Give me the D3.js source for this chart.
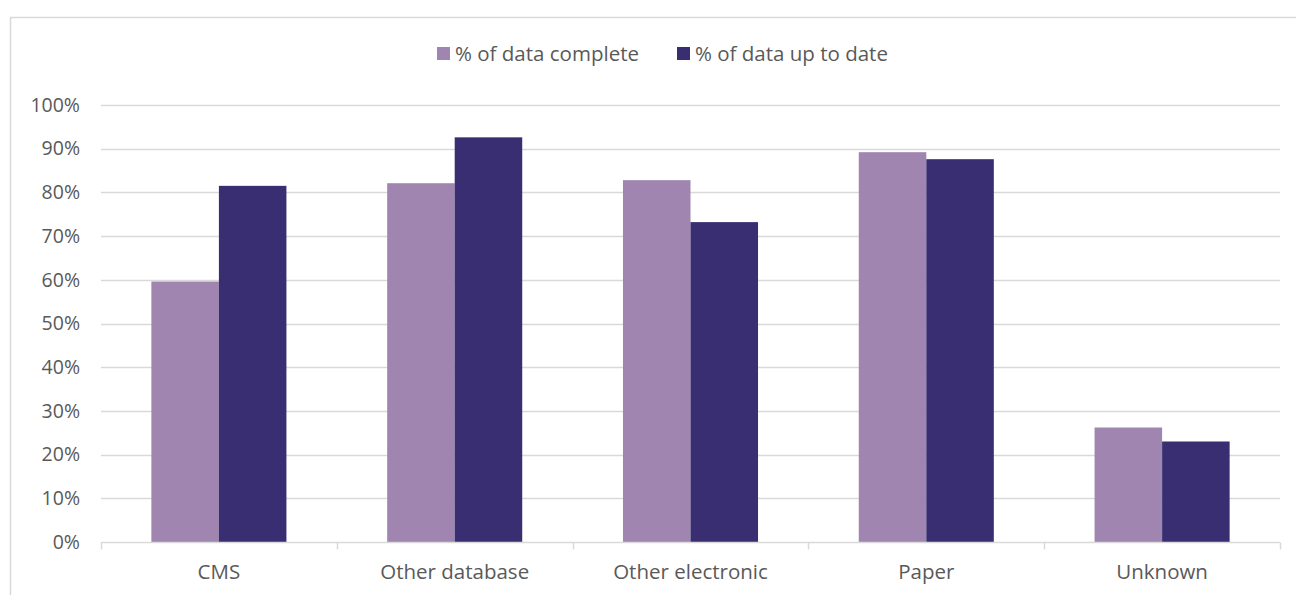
<!DOCTYPE html>
<html lang="en">
<head>
    <meta charset="UTF-8">
    <script src="https://d3js.org/d3.v7.min.js"></script>
    <style>
        body { margin: 0; background: #fff; }
        text { font-family: "Open Sans", Lato, sans-serif; fill: #595959; }
    </style>
</head>
<body>
<div id="chart"></div>
<script>
    var categories = ["CMS", "Other database", "Other electronic", "Paper", "Unknown"];
    var seriesNames = ["% of data complete", "% of data up to date"];
    var complete = [59.6, 82.1, 82.8, 89.2, 26.2];
    var upToDate = [81.5, 92.6, 73.2, 87.6, 23.0];
    var yTicks = [0, 10, 20, 30, 40, 50, 60, 70, 80, 90, 100];
    var colors = ["#9f85b0", "#392e72"];

    var width = 1296, height = 595;
    var margin = {top: 105, right: 16, bottom: 53, left: 101};

    var svg = d3.select("#chart")
        .append("svg")
        .attr("width", width)
        .attr("height", height);

    // outer frame (only top and left edges show)
    svg.append("path")
        .attr("d", "M10.5," + height + "V17.5H" + width)
        .attr("fill", "none")
        .attr("stroke", "#d9d9d9")
        .attr("stroke-width", 1.5);

    var x = d3.scaleBand()
        .domain(categories)
        .range([margin.left, width - margin.right]);

    var xSub = d3.scaleBand()
        .domain(seriesNames)
        .range([0, x.bandwidth()])
        .paddingOuter(0.746);

    var y = d3.scaleLinear()
        .domain([0, 100])
        .range([height - margin.bottom, margin.top]);

    // gridlines
    svg.append("g")
        .selectAll("line")
        .data(yTicks.filter(function (d) { return d > 0; }))
        .enter()
        .append("line")
        .attr("x1", margin.left)
        .attr("x2", width - margin.right)
        .attr("y1", function (d) { return Math.round(y(d)) + 0.5; })
        .attr("y2", function (d) { return Math.round(y(d)) + 0.5; })
        .attr("stroke", "#d9d9d9")
        .attr("stroke-width", 1.5);

    // y axis labels
    var yAxis = d3.axisLeft(y)
        .tickValues(yTicks)
        .tickSize(0)
        .tickPadding(21)
        .tickFormat(function (d) { return d + "%"; });

    svg.append("g")
        .attr("transform", "translate(" + margin.left + ",0)")
        .call(yAxis)
        .call(function (g) { g.select(".domain").remove(); })
        .selectAll("text")
        .style("font-size", "19.5px");

    var data = categories.map(function (c, i) {
        return {category: c, values: [complete[i], upToDate[i]]};
    });

    var groups = svg.append("g")
        .selectAll("g")
        .data(data)
        .enter()
        .append("g")
        .attr("transform", function (d) { return "translate(" + x(d.category) + ",0)"; });

    groups.selectAll("rect")
        .data(function (d) {
            return d.values.map(function (v, j) { return {name: seriesNames[j], value: v, j: j}; });
        })
        .enter()
        .append("rect")
        .attr("x", function (d) { return xSub(d.name); })
        .attr("width", xSub.bandwidth())
        .attr("y", function (d) { return y(d.value); })
        .attr("height", function (d) { return y(0) - y(d.value); })
        .attr("fill", function (d) { return colors[d.j]; });

    // x axis
    var xAxis = d3.axisBottom(x)
        .tickSize(0)
        .tickPadding(22);

    var xg = svg.append("g")
        .attr("transform", "translate(0," + (Math.round(y(0)) + 0.5) + ")")
        .call(xAxis);
    xg.select(".domain")
        .attr("stroke", "#d9d9d9")
        .attr("stroke-width", 1.5)
        .attr("d", "M" + margin.left + ",0H" + (width - margin.right));
    xg.selectAll("text").style("font-size", "20.5px");

    // category boundary ticks
    var bounds = categories.map(function (c) { return x(c); }).concat([width - margin.right]);
    xg.selectAll(".bound")
        .data(bounds)
        .enter()
        .append("line")
        .attr("class", "bound")
        .attr("x1", function (d) { return Math.round(d) + 0.5; })
        .attr("x2", function (d) { return Math.round(d) + 0.5; })
        .attr("y1", 0)
        .attr("y2", 7)
        .attr("stroke", "#d9d9d9")
        .attr("stroke-width", 1.5);

    // legend
    var legendX = [437, 677];
    var legend = svg.append("g")
        .selectAll("g")
        .data(seriesNames)
        .enter()
        .append("g")
        .attr("transform", function (d, i) { return "translate(" + legendX[i] + ",47)"; });

    legend.append("rect")
        .attr("width", 13)
        .attr("height", 13)
        .attr("fill", function (d, i) { return colors[i]; });

    legend.append("text")
        .attr("x", 18)
        .attr("y", 7)
        .attr("dy", "0.35em")
        .style("font-size", "20.5px")
        .text(function (d) { return d; });
</script>
</body>
</html>
